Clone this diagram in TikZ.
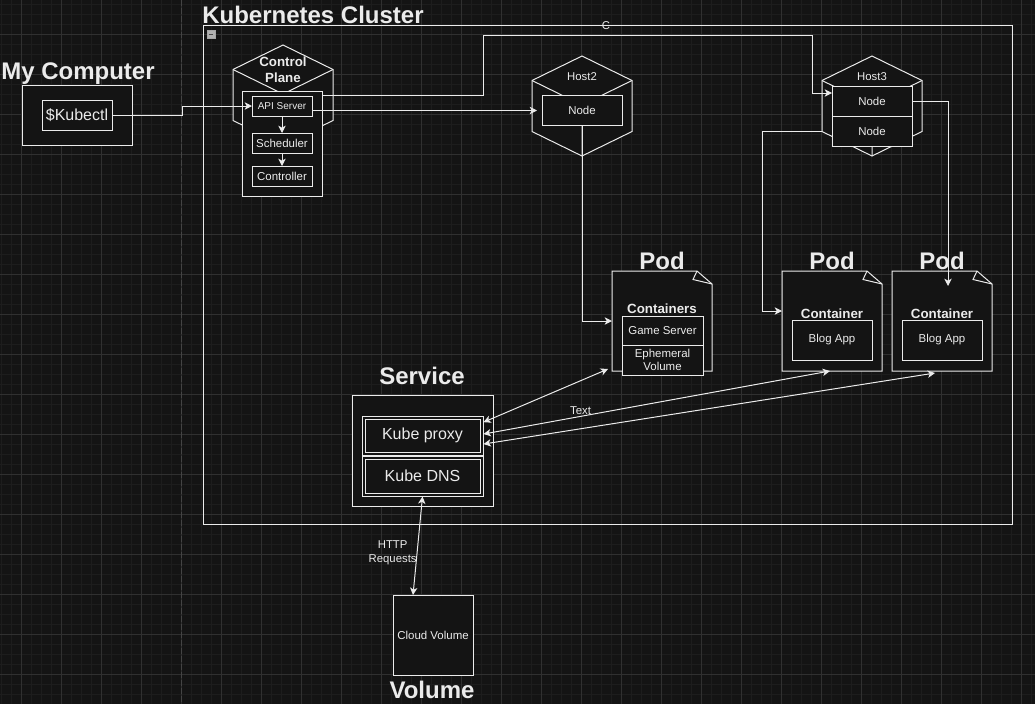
\documentclass[tikz,border=0pt]{standalone}
\usepackage{fontspec}
\setmainfont{Liberation Sans}
\usetikzlibrary{arrows.meta}
\definecolor{bgdark}{HTML}{141414}
\definecolor{gridmin}{HTML}{1D1D1D}
\definecolor{gridmaj}{HTML}{303030}
\definecolor{ink}{HTML}{EBEBEB}
\begin{document}
\begin{tikzpicture}[
    x=0.75pt, y=-0.75pt,
    >={Stealth[length=5.5pt, width=5.5pt, inset=1.5pt]},
    sz/.style 2 args={minimum width=#1*0.75pt, minimum height=#2*0.75pt},
    box/.style={draw=ink, fill=bgdark, line width=0.75pt, inner sep=0pt, outer sep=0pt,
        text=ink, font=\fontsize{8.6}{9.75}\selectfont, align=center},
    dbl/.style={double=bgdark, double distance=1.5pt},
    ttl/.style={text=ink, font=\bfseries\fontsize{18}{20}\selectfont, inner sep=0pt},
    sub/.style={text=ink, font=\bfseries\fontsize{10}{12}\selectfont, inner sep=0pt, align=center},
    lbl/.style={text=ink, font=\fontsize{8.5}{10.5}\selectfont, inner sep=0pt, align=center},
    wire/.style={draw=ink, line width=0.75pt},
    big/.style={font=\fontsize{12}{14}\selectfont}
]

% page and grid
\fill[bgdark] (0,0) rectangle (1035,704);
\useasboundingbox (0,0) rectangle (1035,704);
\foreach \x in {1.5,11.5,...,1031.5}{
   \draw[gridmin, line width=0.75pt] (\x,0) -- (\x,704);
}
\foreach \y in {4.5,14.5,...,704}{
   \draw[gridmin, line width=0.75pt] (0,\y) -- (1035,\y);
}
\foreach \x in {21.5,61.5,...,1021.5}{
   \draw[gridmaj, line width=0.75pt] (\x,0) -- (\x,704);
}
\foreach \y in {34.5,74.5,...,674.5}{
   \draw[gridmaj, line width=0.75pt] (0,\y) -- (1035,\y);
}
\draw[gray!45!bgdark, line width=0.75pt, dash pattern=on 4.5pt off 1.5pt] (181.5,0) -- (181.5,704);

% my computer
\node[ttl] (mct) at (78,73.5) {My Computer};
\node[box, sz={110}{60}] (mc) at (77,115) {};
\node[box, big, sz={70}{30}] (kubectl) at (77,115) {\$Kubectl};

% cluster frame
\node[ttl, anchor=west] (k8st) at (202,15) {Kubernetes Cluster};
\node[draw=ink, line width=0.75pt, sz={809}{499}, inner sep=0pt, outer sep=0pt] (cluster) at (607.5,274.5) {};
\node[draw=gray!70, fill=gray!60, sz={8}{8}, inner sep=0pt] (fold) at (211,34.5) {};
\draw[black!70, line width=0.9pt] ([xshift=1.5pt]fold.west) -- ([xshift=-1.5pt]fold.east);
\node[lbl] (c) at (606,25.5) {C};

% cubes
\foreach \n/\cx/\ty in {cp/283/45, hb/582/56, hc/872/56}{
   \draw[draw=ink, fill=bgdark, line width=0.75pt] (\cx,\ty) -- ++(50,24.5) -- ++(0,51)
      -- ++(-50,24.5) -- ++(-50,-24.5) -- ++(0,-51) -- cycle;
   \draw[ink, line width=0.75pt] (\cx-50,\ty+24.5) -- (\cx,\ty+49) -- (\cx+50,\ty+24.5)
      (\cx,\ty+49) -- (\cx,\ty+100);
}

% control plane
\node[sub] (cpt) at (283,70) {Control\\Plane};
\node[box, sz={80}{105}] (cpbox) at (282.5,143.5) {};
\node[box, sz={60}{20}, font=\fontsize{7.5}{9}\selectfont] (api) at (282,106) {API Server};
\node[box, sz={60}{20}] (sched) at (282,143) {Scheduler};
\node[box, sz={60}{20}] (ctrl) at (282,176) {Controller};

% hosts
\node[lbl] (h2t) at (582,76.5) {Host2};
\node[box, sz={80}{30}] (n2) at (582,110.5) {Node};
\node[lbl] (h3t) at (872,76.5) {Host3};
\node[box, sz={80}{30}] (n3a) at (872,101) {Node};
\node[box, sz={80}{30}] (n3b) at (872,131) {Node};

% pods
\foreach \p/\cx in {pod1/662, pod2/832, pod3/942}{
   \node[sz={100}{100}, inner sep=0pt, outer sep=0pt] (\p) at (\cx,321) {};
   \node[ttl] (\p-t) at (\cx,261) {Pod};
   \draw[draw=ink, fill=bgdark, line width=0.75pt] (\p.north west) -- ++(85,0) -- ++(15,13)
      -- (\p.south east) -- (\p.south west) -- cycle;
   \draw[ink, line width=0.75pt] (\p.north west) ++(85,0) -- ++(-4,8.5) -- ++(19,4.5);
}
\node[sub] (ctrs) at (662,309) {Containers};
\node[box, sz={81}{29}] (gs) at (662.5,330.5) {Game Server};
\node[box, sz={81}{30}] (eph) at (662.5,360) {Ephemeral\\Volume};
\node[sub] (ctr2) at (832,314) {Container};
\node[box, sz={80}{40}] (blog2) at (832,340) {Blog App};
\node[sub] (ctr3) at (942,314) {Container};
\node[box, sz={80}{40}] (blog3) at (942,340) {Blog App};

% service
\node[ttl] (svct) at (422,376) {Service};
\node[box, sz={141}{111}] (svc) at (422.5,450.5) {};
\node[box, dbl, big, sz={118}{36}] (kp) at (422.5,435.5) {Kube proxy};
\node[box, dbl, big, sz={118}{37}] (kd) at (422.5,476) {Kube DNS};

% volume
\node[box, sz={80}{80}] (cv) at (433,635) {Cloud Volume};
\node[ttl] (volt) at (432,690) {Volume};

% connectors
\draw[wire, ->] (kubectl.east) -- ++(70,0) |- (api.west);
\draw[wire, ->] (api) -- (sched);
\draw[wire, ->] (sched) -- (ctrl);
\draw[wire, ->] ([yshift=-3pt]cpbox.north east) -- (483,95) -- (483,35) -| (812,93) -- ([yshift=6pt]n3a.west);
\draw[wire, ->, shorten >=3.75pt] (api.east |- n2.west) -- (n2.west);
\draw[wire, ->] (n3a.east) -| ([xshift=4.5pt, yshift=-11.25pt]pod3.north);
\draw[wire, ->] ([xshift=-7.5pt]n3b.west) -- (762,131) |- ([yshift=7.5pt]pod2.west);
\draw[wire, ->] (n2.south) |- (pod1.west);
\draw[wire, <->] ([xshift=1.5pt, yshift=10pt]kp.east) -- ([xshift=-3pt, yshift=1.5pt]pod1.south west);
\draw[wire, <->] ([xshift=1.5pt, yshift=1.1pt]kp.east) -- node[lbl, pos=0.28, anchor=south, yshift=1pt] (txt) {Text} ([xshift=-1.5pt]pod2.south);
\draw[wire, <->] ([xshift=1.5pt, yshift=-6.4pt]kp.east) -- ([xshift=-5.25pt, yshift=-1.5pt]pod3.south);
\draw[wire, <->] ([yshift=-1.5pt]kd.south) -- node[lbl, pos=0.57, anchor=east] (http) {HTTP\\Requests} ([xshift=-15pt]cv.north);

\end{tikzpicture}
\end{document}
